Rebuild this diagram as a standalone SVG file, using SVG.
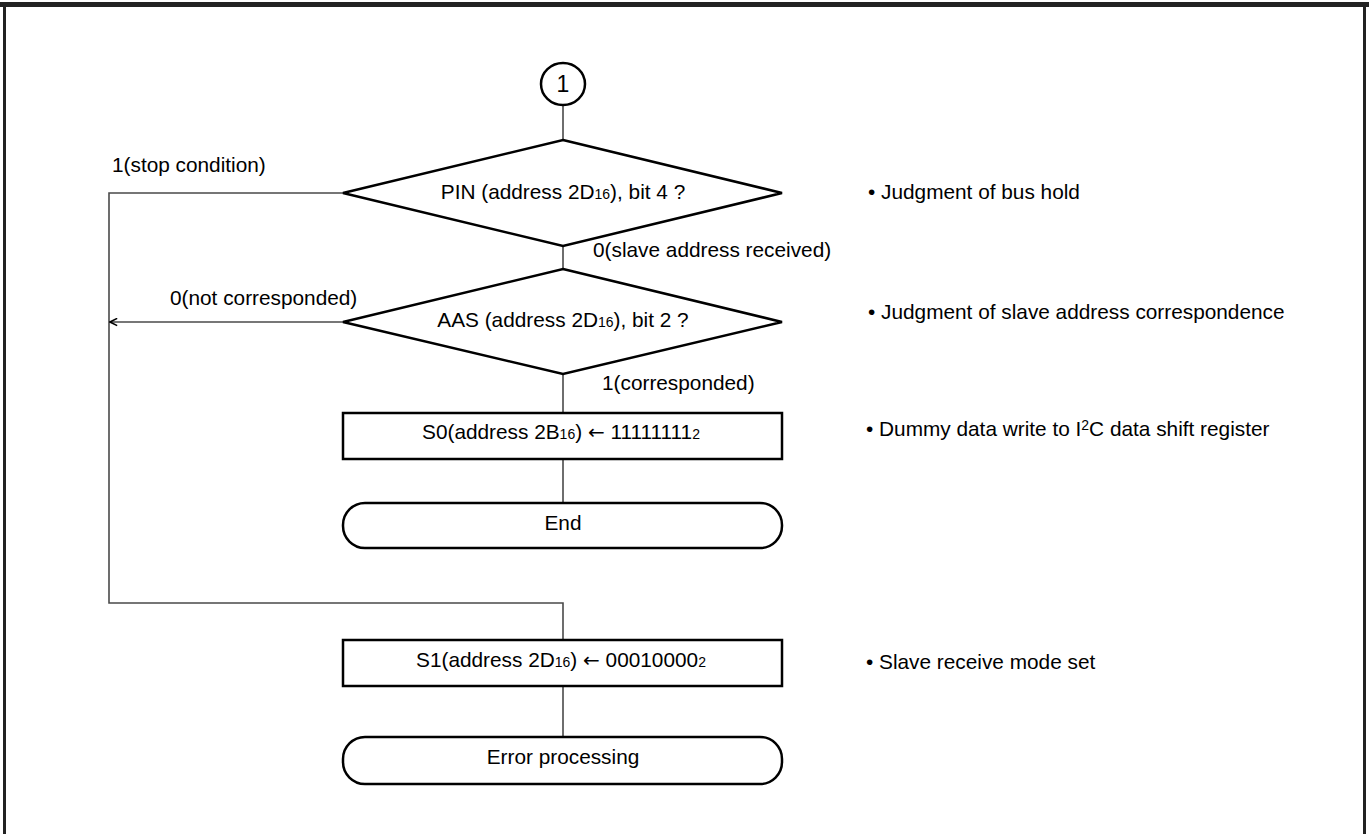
<svg xmlns="http://www.w3.org/2000/svg" width="1369" height="834" viewBox="0 0 1369 834">
<style>
.shape{fill:#fff;stroke:#000;stroke-width:2.5}
.conn{fill:none;stroke:#4a4a4a;stroke-width:1.6}
text{font-family:"Liberation Sans",Arial,sans-serif;font-size:20.8px;fill:#000}
.c{text-anchor:middle}
.sub{font-size:14px}
.ar{font-family:"DejaVu Sans",sans-serif;font-size:20px}
</style>
<defs>
<marker id="arr" viewBox="0 0 10 10" refX="9" refY="5" markerWidth="9" markerHeight="9" markerUnits="userSpaceOnUse" orient="auto">
<path d="M1,1 L9,5 L1,9" fill="none" stroke="#000" stroke-width="1.8"/>
</marker>
</defs>
<rect x="0" y="0" width="1369" height="834" fill="#fff"/>
<g id="frame" stroke="#222" fill="none">
<line x1="0" y1="4.5" x2="1369" y2="4.5" stroke-width="5"/>
<line x1="4.5" y1="4" x2="4.5" y2="834" stroke-width="3"/>
<line x1="1364.5" y1="4" x2="1364.5" y2="834" stroke-width="3"/>
</g>
<g id="connectors">
<line class="conn" x1="563" y1="105" x2="563" y2="140"/>
<line class="conn" x1="563" y1="246" x2="563" y2="269"/>
<line class="conn" x1="563" y1="374" x2="563" y2="413"/>
<line class="conn" x1="563" y1="459" x2="563" y2="503"/>
<polyline class="conn" points="343,193 109,193 109,603 563,603 563,640"/>
<line class="conn" x1="343" y1="322" x2="110" y2="322" marker-end="url(#arr)"/>
<line class="conn" x1="563" y1="686" x2="563" y2="737"/>
<text x="112" y="172">1(stop condition)</text>
<text x="593" y="257">0(slave address received)</text>
<text x="170" y="305">0(not corresponded)</text>
<text x="602" y="390">1(corresponded)</text>
</g>
<g id="n1">
<ellipse class="shape" cx="563" cy="84" rx="22" ry="21"/>
<text class="c" x="563" y="92" style="font-size:23px">1</text>
</g>
<g id="d1">
<polygon class="shape" points="563,140 782,193 563,246 343,193"/>
<text class="c" x="563" y="199">PIN (address 2D<tspan class="sub">16</tspan>), bit 4 ?</text>
</g>
<g id="d2">
<polygon class="shape" points="563,269 782,322 563,374 343,322"/>
<text class="c" x="563" y="327">AAS (address 2D<tspan class="sub">16</tspan>), bit 2 ?</text>
</g>
<g id="p1">
<rect class="shape" x="343" y="413" width="439" height="46"/>
<text class="c" x="561" y="439">S0(address 2B<tspan class="sub">16</tspan>)  <tspan class="ar">←</tspan> 11111111<tspan class="sub">2</tspan></text>
</g>
<g id="t1">
<rect class="shape" x="343" y="503" width="439" height="45" rx="22" ry="22"/>
<text class="c" x="563" y="530">End</text>
</g>
<g id="p2">
<rect class="shape" x="343" y="640" width="439" height="46"/>
<text class="c" x="561" y="667">S1(address 2D<tspan class="sub">16</tspan>) <tspan class="ar">←</tspan>  00010000<tspan class="sub">2</tspan></text>
</g>
<g id="t2">
<rect class="shape" x="343" y="737" width="439" height="47" rx="22" ry="22"/>
<text class="c" x="563" y="764">Error processing</text>
</g>
<g id="notes">
<text x="868" y="199">• Judgment of bus hold</text>
<text x="868" y="319">• Judgment of slave address correspondence</text>
<text x="866" y="436">• Dummy data write to I<tspan class="sub" dy="-6">2</tspan><tspan dy="6">C data shift register</tspan></text>
<text x="866" y="669">• Slave receive mode set</text>
</g>
</svg>
